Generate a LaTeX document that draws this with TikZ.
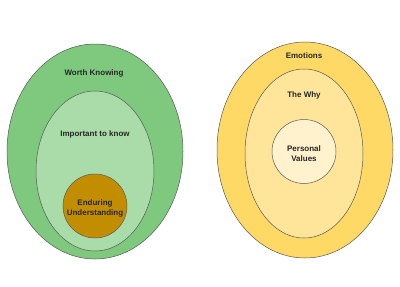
\documentclass[tikz,border=0pt]{standalone}
\usepackage{fontspec}
\setmainfont{Liberation Sans}
\definecolor{gOut}{HTML}{7FC97F}
\definecolor{gMid}{HTML}{A9DCA8}
\definecolor{gIn}{HTML}{C28E00}
\definecolor{yOut}{HTML}{FFD966}
\definecolor{yMid}{HTML}{FFE599}
\definecolor{yIn}{HTML}{FFF2CC}
\definecolor{edge}{HTML}{595959}
\begin{document}
\begin{tikzpicture}[x=1pt,y=-1pt,
  ring/.style={draw=edge,line width=0.5pt},
  lbl/.style={font=\fontsize{8}{10}\selectfont\bfseries,text=black!85,align=center,inner sep=0pt}]
\useasboundingbox[fill=white] (0,0) rectangle (400,287);
% left
\path[ring,fill=gOut] (95,151.5) ellipse [x radius=88,y radius=107.5];
\path[ring,fill=gMid] (95,171) ellipse [x radius=59,y radius=80];
\path[ring,fill=gIn] (95,206) circle [radius=32];
\node[lbl] (wk) at (94,73) {Worth Knowing};
\node[lbl] (ik) at (95,134) {Important to know};
\node[lbl] (eu) at (95,208) {Enduring\\Understanding};
% right
\path[ring,fill=yOut] (305,150) ellipse [x radius=88,y radius=108];
\path[ring,fill=yMid] (304,153.5) ellipse [x radius=59,y radius=84.5];
\path[ring,fill=yIn] (304,151.5) circle [radius=32];
\node[lbl] (em) at (304,56) {Emotions};
\node[lbl] (tw) at (304,95) {The Why};
\node[lbl] (pv) at (304,153.5) {Personal\\Values};
\end{tikzpicture}
\end{document}
